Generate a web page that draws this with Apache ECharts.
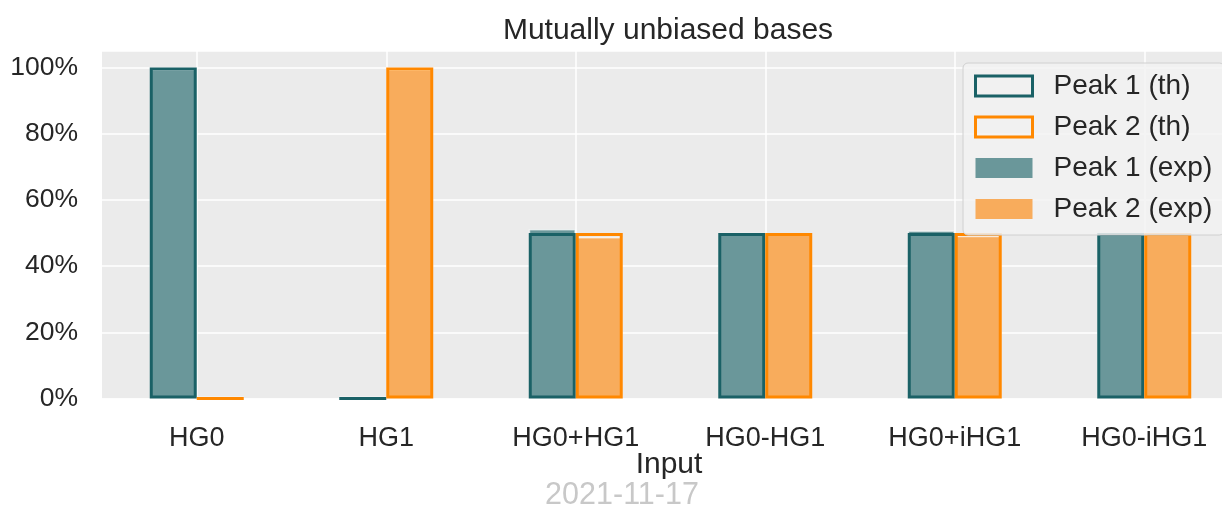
<!DOCTYPE html>
<html>
<head>
<meta charset="utf-8">
<script src="https://cdn.jsdelivr.net/npm/echarts@6/dist/echarts.min.js"></script>
<style>
html,body{margin:0;padding:0;background:#ffffff;overflow:hidden;width:1222px;height:507px;}
#chart{width:1245px;height:507px;}
</style>
</head>
<body>
<div id="chart"></div>
<script>
const categories = ['HG0', 'HG1', 'HG0+HG1', 'HG0-HG1', 'HG0+iHG1', 'HG0-iHG1'];
const peak1Th = [1, 0, 0.5, 0.5, 0.5, 0.5];
const peak2Th = [0, 1, 0.5, 0.5, 0.5, 0.5];
const peak1Exp = [0.994, 0.006, 0.512, 0.501, 0.508, 0.499];
const peak2Exp = [0.006, 0.994, 0.488, 0.499, 0.492, 0.501];
const seriesNames = ['Peak 1 (th)', 'Peak 2 (th)', 'Peak 1 (exp)', 'Peak 2 (exp)'];

const FONT = 'Liberation Sans, Arial, Helvetica, sans-serif';
const TEAL = '#1a6166';
const ORANGE = '#ff8800';
const TEAL_FILL = '#6a979a';
const ORANGE_FILL = '#f8ac5c';
const TXT = '#262626';

const chart = echarts.init(document.getElementById('chart'), null, {renderer: 'canvas'});

function thSeries(name, data, color) {
  return {
    name: name, type: 'bar', xAxisIndex: 0, yAxisIndex: 0, data: data,
    barWidth: 47, barGap: '0%', z: 3,
    itemStyle: {color: 'rgba(0,0,0,0)', borderColor: color, borderWidth: 3},
    emphasis: {disabled: true}, animation: false
  };
}
function expSeries(name, data, color) {
  return {
    name: name, type: 'bar', xAxisIndex: 1, yAxisIndex: 0, data: data,
    barWidth: 47, barGap: '0%', z: 2,
    itemStyle: {color: color, borderColor: 'rgba(255,255,255,0.6)', borderWidth: 1.5},
    emphasis: {disabled: true}, animation: false
  };
}

const option = {
  animation: false,
  backgroundColor: '#ffffff',
  grid: {
    left: 102, top: 51, width: 1137, height: 347.5,
    show: true, backgroundColor: '#ebebeb', borderWidth: 0, containLabel: false
  },
  xAxis: [
    {
      type: 'category', data: categories, gridIndex: 0,
      axisLine: {show: false}, axisTick: {show: false},
      axisLabel: {color: TXT, fontSize: 27, fontFamily: FONT, margin: 27},
      splitLine: {show: true, alignWithLabel: true, lineStyle: {color: '#ffffff', width: 1.5}}
    },
    {
      type: 'category', data: categories, gridIndex: 0, show: false,
      splitLine: {show: false}
    }
  ],
  yAxis: {
    type: 'value', min: 0, max: 1.05, interval: 0.2,
    axisLine: {show: false}, axisTick: {show: false},
    axisLabel: {
      color: TXT, fontSize: 26.5, fontFamily: FONT, margin: 24, showMaxLabel: false,
      formatter: function (v) { return Math.round(v * 100) + '%'; }
    },
    splitLine: {show: true, lineStyle: {color: '#ffffff', width: 1.5}}
  },
  legend: {
    orient: 'vertical', left: 963, top: 63,
    padding: [9, 12, 12, 11],
    itemWidth: 57, itemHeight: 20, itemGap: 13,
    backgroundColor: 'rgba(242,242,242,0.85)', borderColor: '#d0d0d0', borderWidth: 1, borderRadius: 5,
    textStyle: {color: TXT, fontSize: 28, fontFamily: FONT, lineHeight: 27, padding: [0, 0, 0, 16]},
    icon: 'rect',
    selectedMode: false,
    data: [
      {name: seriesNames[0], itemStyle: {color: 'rgba(242,242,242,0)', borderColor: TEAL, borderWidth: 3}},
      {name: seriesNames[1], itemStyle: {color: 'rgba(242,242,242,0)', borderColor: ORANGE, borderWidth: 3}},
      {name: seriesNames[2], itemStyle: {color: TEAL_FILL, borderWidth: 0}},
      {name: seriesNames[3], itemStyle: {color: ORANGE_FILL, borderWidth: 0}}
    ]
  },
  graphic: [
    {type: 'text', x: 668, y: 31, style: {text: 'Mutually unbiased bases', fill: TXT, fontSize: 30, fontFamily: FONT, align: 'center', verticalAlign: 'middle'}},
    {type: 'text', x: 669, y: 465, style: {text: 'Input', fill: TXT, fontSize: 30, fontFamily: FONT, align: 'center', verticalAlign: 'middle'}},
    {type: 'text', x: 622, y: 496, style: {text: '2021-11-17', fill: '#c8c8c8', fontSize: 30.5, fontFamily: FONT, align: 'center', verticalAlign: 'middle'}}
  ],
  series: [
    expSeries(seriesNames[2], peak1Exp, TEAL_FILL),
    expSeries(seriesNames[3], peak2Exp, ORANGE_FILL),
    thSeries(seriesNames[0], peak1Th, TEAL),
    thSeries(seriesNames[1], peak2Th, ORANGE)
  ]
};
chart.setOption(option);
</script>
</body>
</html>
